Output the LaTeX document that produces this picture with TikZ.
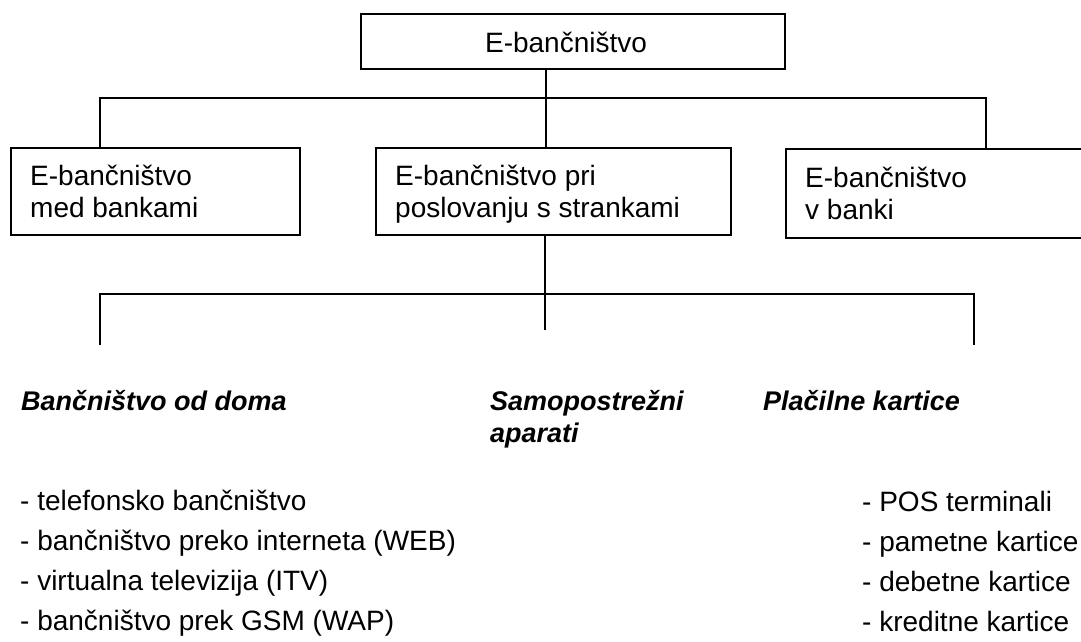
\documentclass[tikz,border=0pt]{standalone}
\usepackage{fontspec}
\setmainfont{Liberation Sans}
\tikzset{
  box/.style={draw, line width=1.8pt, inner sep=0pt, anchor=north west},
  conn/.style={line width=1.8pt},
  lbl/.style={anchor=base west, align=left, inner sep=0pt, font=\fontsize{28}{32}\selectfont},
  head/.style={anchor=base west, align=left, inner sep=0pt, font=\fontsize{27}{32}\selectfont\bfseries\itshape},
  lst/.style={anchor=base west, align=left, inner sep=0pt, font=\fontsize{28}{40}\selectfont},
}
\begin{document}
\begin{tikzpicture}[x=1pt,y=-1pt]
\useasboundingbox (0,0) rectangle (1081,641);
% boxes
\node[box, minimum width=424pt, minimum height=55pt] (top) at (360,13) {};
\node[lbl, anchor=base] (ttop) at (566,52) {E-bančništvo};
\node[box, minimum width=289pt, minimum height=87pt] (b1) at (10,147) {};
\node[box, minimum width=355pt, minimum height=87pt] (b2) at (375,147) {};
\node[box, minimum width=320pt, minimum height=89pt] (b3) at (785,148) {};
\node[lbl] (t1) at (30,217) {E-bančništvo\\med bankami};
\node[lbl] (t2) at (395,217) {E-bančništvo pri\\poslovanju s strankami};
\node[lbl] (t3) at (805,219) {E-bančništvo\\v banki};
% upper connectors
\coordinate (j1) at (546,98);
\coordinate (hl) at (100,98);
\coordinate (hr) at (986,98);
\draw[conn] (top.south -| j1) -- (j1) -- (b2.north -| j1);
\draw[conn] (b1.north -| hl) -- (hl) -- (hr) -- (b3.north -| hr);
% lower connectors
\coordinate (l1) at (100,345);
\coordinate (lh1) at (100,294);
\coordinate (lh2) at (974,294);
\coordinate (l3) at (974,345);
\coordinate (l2) at (545,330);
\draw[conn] (l1) -- (lh1) -- (lh2) -- (l3);
\draw[conn] (b2.south -| l2) -- (l2);
% headings
\node[head] (h1) at (21,410) {Bančništvo od doma};
\node[head] (h2) at (490,442) {Samopostrežni\\aparati};
\node[head] (h3) at (763,410) {Plačilne kartice};
% lists
\node[lst] (L1) at (20,630) {- telefonsko bančništvo\\- bančništvo preko interneta (WEB)\\- virtualna televizija (ITV)\\- bančništvo prek GSM (WAP)};
\node[lst] (L3) at (862,631) {- POS terminali\\- pametne kartice\\- debetne kartice\\- kreditne kartice};
\end{tikzpicture}
\end{document}
